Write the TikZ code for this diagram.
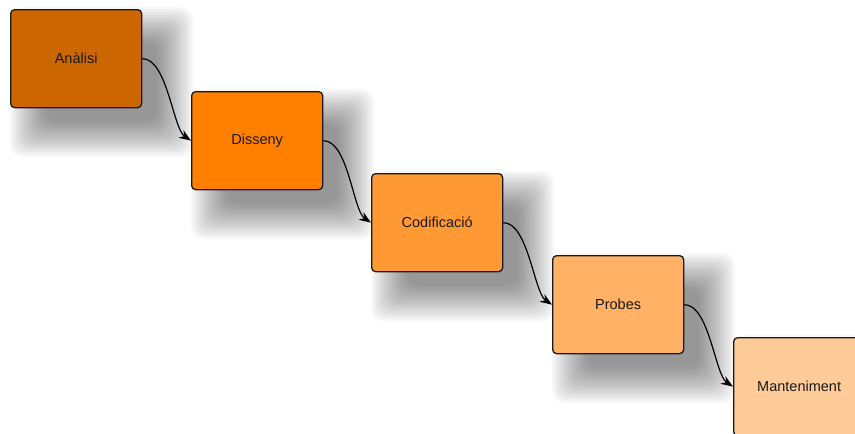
\documentclass[tikz,border=0pt]{standalone}
\usepackage{fontspec}
\setmainfont{Liberation Sans}
\usetikzlibrary{arrows.meta}
\definecolor{phaseA}{HTML}{CC6600}
\definecolor{phaseB}{HTML}{FF8000}
\definecolor{phaseC}{HTML}{FF9933}
\definecolor{phaseD}{HTML}{FFB266}
\definecolor{phaseE}{HTML}{FFCC99}
\begin{document}
\begin{tikzpicture}[x=1pt,y=-1pt,
  stage/.style={draw=black!90, line width=1.3pt, rounded corners=4pt,
    minimum width=131pt, minimum height=98pt, inner sep=0pt,
    font=\fontsize{14.5}{16}\selectfont, text=black!90, anchor=north west},
  flow/.style={-{Stealth[length=12pt,width=9pt]}, line width=1.2pt, black}]
\useasboundingbox (0,0) rectangle (855,434);
\clip (0,0) rectangle (855,434);
% soft drop shadows under each stage
\foreach \x/\y in {10/9,191/91,371/173,552/255,733/337}{
  \foreach \e in {-10,-8,...,26}{
    \fill[black,opacity=0.028,rounded corners=12pt]
      (\x+26-\e,\y+24-\e) rectangle (\x+157+\e,\y+122+\e);
  }
}
% stages
\node[stage, fill=phaseA] (a) at (10,9)   {Anàlisi};
\node[stage, fill=phaseB] (b) at (191,91) {Disseny};
\node[stage, fill=phaseC] (c) at (371,173) {Codificació};
\node[stage, fill=phaseD] (d) at (552,255) {Probes};
\node[stage, fill=phaseE] (e) at (733,337) {Manteniment};
% connectors
\draw[flow] (a.east) .. controls +(25,0) and +(-18,-12) .. (b.west);
\draw[flow] (b.east) .. controls +(25,0) and +(-18,-12) .. (c.west);
\draw[flow] (c.east) .. controls +(25,0) and +(-18,-12) .. (d.west);
\draw[flow] (d.east) .. controls +(25,0) and +(-18,-12) .. (e.west);
\end{tikzpicture}
\end{document}
